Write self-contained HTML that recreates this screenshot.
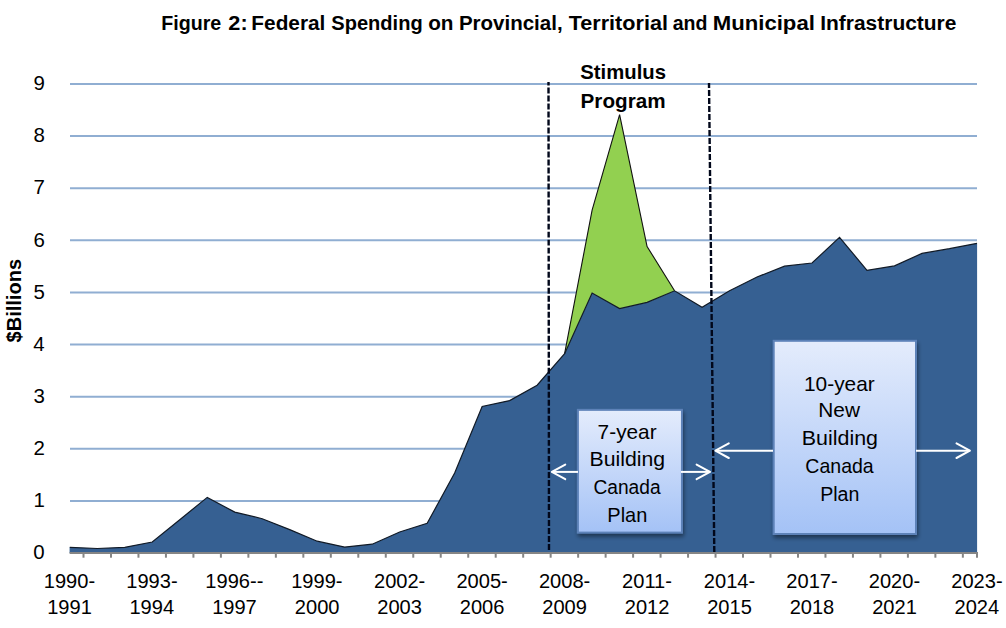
<!DOCTYPE html>
<html><head><meta charset="utf-8"><style>
html,body{margin:0;padding:0;background:#fff;overflow:hidden;width:1006px;height:628px}
svg{display:block}
text{font-family:"Liberation Sans",sans-serif}
</style></head><body>
<svg width="1006" height="628" viewBox="0 0 1006 628">
<defs>
<linearGradient id="bx" x1="0" y1="0" x2="0" y2="1">
<stop offset="0" stop-color="#e4ecfc"/><stop offset="1" stop-color="#a4c2f6"/>
</linearGradient>
<filter id="sh" x="-20%" y="-20%" width="140%" height="140%"><feGaussianBlur in="SourceAlpha" stdDeviation="2"/><feOffset dx="1" dy="3"/><feComponentTransfer><feFuncA type="linear" slope="0.45"/></feComponentTransfer><feMerge><feMergeNode/><feMergeNode in="SourceGraphic"/></feMerge></filter>
</defs>
<rect width="1006" height="628" fill="#fff"/>
<line x1="70" y1="500.89" x2="977" y2="500.89" stroke="#90aed2" stroke-width="2"/>
<line x1="70" y1="448.78" x2="977" y2="448.78" stroke="#90aed2" stroke-width="2"/>
<line x1="70" y1="396.67" x2="977" y2="396.67" stroke="#90aed2" stroke-width="2"/>
<line x1="70" y1="344.56" x2="977" y2="344.56" stroke="#90aed2" stroke-width="2"/>
<line x1="70" y1="292.45" x2="977" y2="292.45" stroke="#90aed2" stroke-width="2"/>
<line x1="70" y1="240.34" x2="977" y2="240.34" stroke="#90aed2" stroke-width="2"/>
<line x1="70" y1="188.23" x2="977" y2="188.23" stroke="#90aed2" stroke-width="2"/>
<line x1="70" y1="136.12" x2="977" y2="136.12" stroke="#90aed2" stroke-width="2"/>
<line x1="70" y1="84.01" x2="977" y2="84.01" stroke="#90aed2" stroke-width="2"/>
<polygon points="69.6,553 69.6,547.3 69.8,547.3 97.29,548.5 124.78,547.3 152.27,542 179.76,519.7 207.25,497.4 234.74,512.1 262.23,518.7 289.72,529.6 317.21,541.2 344.7,547.1 372.19,544.2 399.68,532 427.17,523.3 454.66,473.1 482.15,406.4 509.64,400.6 537.13,385.2 564.62,353.7 592.11,293 619.6,308.5 647.09,302.4 674.58,290.8 702.07,307.2 729.56,290.7 757.05,277 784.54,266.2 812.03,263 839.52,237.4 867.01,270.3 894.5,265.9 921.99,253.4 949.48,248.7 976.97,243.3 977.1,243.3 977.1,553" fill="#366092"/>
<polygon points="564.62,353.7 592.11,210.1 619.6,114.6 647.09,246.5 674.58,290.8 674.58,290.8 647.09,302.4 619.6,308.5 592.11,293 564.62,353.7" fill="#92d050"/>
<polyline points="564.62,353.7 592.11,210.1 619.6,114.6 647.09,246.5 674.58,290.8" fill="none" stroke="#111" stroke-width="1.1"/>
<polyline points="69.8,547.3 97.29,548.5 124.78,547.3 152.27,542 179.76,519.7 207.25,497.4 234.74,512.1 262.23,518.7 289.72,529.6 317.21,541.2 344.7,547.1 372.19,544.2 399.68,532 427.17,523.3 454.66,473.1 482.15,406.4 509.64,400.6 537.13,385.2 564.62,353.7 592.11,293 619.6,308.5 647.09,302.4 674.58,290.8 702.07,307.2 729.56,290.7 757.05,277 784.54,266.2 812.03,263 839.52,237.4 867.01,270.3 894.5,265.9 921.99,253.4 949.48,248.7 976.97,243.3" fill="none" stroke="#111a26" stroke-width="1.2"/>
<line x1="69.6" y1="552.9" x2="977.2" y2="552.9" stroke="#858585" stroke-width="2"/>
<line x1="83.5" y1="552" x2="83.5" y2="557.7" stroke="#858585" stroke-width="2"/>
<line x1="110.98" y1="552" x2="110.98" y2="557.7" stroke="#858585" stroke-width="2"/>
<line x1="138.46" y1="552" x2="138.46" y2="557.7" stroke="#858585" stroke-width="2"/>
<line x1="165.94" y1="552" x2="165.94" y2="557.7" stroke="#858585" stroke-width="2"/>
<line x1="193.42" y1="552" x2="193.42" y2="557.7" stroke="#858585" stroke-width="2"/>
<line x1="220.9" y1="552" x2="220.9" y2="557.7" stroke="#858585" stroke-width="2"/>
<line x1="248.38" y1="552" x2="248.38" y2="557.7" stroke="#858585" stroke-width="2"/>
<line x1="275.86" y1="552" x2="275.86" y2="557.7" stroke="#858585" stroke-width="2"/>
<line x1="303.34" y1="552" x2="303.34" y2="557.7" stroke="#858585" stroke-width="2"/>
<line x1="330.82" y1="552" x2="330.82" y2="557.7" stroke="#858585" stroke-width="2"/>
<line x1="358.3" y1="552" x2="358.3" y2="557.7" stroke="#858585" stroke-width="2"/>
<line x1="385.78" y1="552" x2="385.78" y2="557.7" stroke="#858585" stroke-width="2"/>
<line x1="413.26" y1="552" x2="413.26" y2="557.7" stroke="#858585" stroke-width="2"/>
<line x1="440.74" y1="552" x2="440.74" y2="557.7" stroke="#858585" stroke-width="2"/>
<line x1="468.22" y1="552" x2="468.22" y2="557.7" stroke="#858585" stroke-width="2"/>
<line x1="495.7" y1="552" x2="495.7" y2="557.7" stroke="#858585" stroke-width="2"/>
<line x1="523.18" y1="552" x2="523.18" y2="557.7" stroke="#858585" stroke-width="2"/>
<line x1="550.66" y1="552" x2="550.66" y2="557.7" stroke="#858585" stroke-width="2"/>
<line x1="578.14" y1="552" x2="578.14" y2="557.7" stroke="#858585" stroke-width="2"/>
<line x1="605.62" y1="552" x2="605.62" y2="557.7" stroke="#858585" stroke-width="2"/>
<line x1="633.1" y1="552" x2="633.1" y2="557.7" stroke="#858585" stroke-width="2"/>
<line x1="660.58" y1="552" x2="660.58" y2="557.7" stroke="#858585" stroke-width="2"/>
<line x1="688.06" y1="552" x2="688.06" y2="557.7" stroke="#858585" stroke-width="2"/>
<line x1="715.54" y1="552" x2="715.54" y2="557.7" stroke="#858585" stroke-width="2"/>
<line x1="743.02" y1="552" x2="743.02" y2="557.7" stroke="#858585" stroke-width="2"/>
<line x1="770.5" y1="552" x2="770.5" y2="557.7" stroke="#858585" stroke-width="2"/>
<line x1="797.98" y1="552" x2="797.98" y2="557.7" stroke="#858585" stroke-width="2"/>
<line x1="825.46" y1="552" x2="825.46" y2="557.7" stroke="#858585" stroke-width="2"/>
<line x1="852.94" y1="552" x2="852.94" y2="557.7" stroke="#858585" stroke-width="2"/>
<line x1="880.42" y1="552" x2="880.42" y2="557.7" stroke="#858585" stroke-width="2"/>
<line x1="907.9" y1="552" x2="907.9" y2="557.7" stroke="#858585" stroke-width="2"/>
<line x1="935.38" y1="552" x2="935.38" y2="557.7" stroke="#858585" stroke-width="2"/>
<line x1="962.86" y1="552" x2="962.86" y2="557.7" stroke="#858585" stroke-width="2"/>
<line x1="977" y1="552" x2="977" y2="557.7" stroke="#858585" stroke-width="2"/>
<line x1="548.5" y1="82" x2="549" y2="552" stroke="#01071a" stroke-width="2.4" stroke-dasharray="5.95 2.06" stroke-dashoffset="2.55"/>
<line x1="709" y1="83" x2="714.3" y2="552" stroke="#01071a" stroke-width="2.4" stroke-dasharray="6 2" stroke-dashoffset="1"/>
<g filter="url(#sh)"><rect x="577.9" y="409.85" width="104.05" height="122.75" fill="url(#bx)" stroke="#5d82b8" stroke-width="2"/></g>
<g filter="url(#sh)"><rect x="773.7" y="340.8" width="142.3" height="193.2" fill="url(#bx)" stroke="#5d82b8" stroke-width="2"/></g>
<line x1="578" y1="471.9" x2="552.35" y2="471.9" stroke="#fff" stroke-width="2"/><polyline points="565.25,464.6 551.85,471.9 565.25,479.2" fill="none" stroke="#fff" stroke-width="2" stroke-linecap="round" stroke-linejoin="round"/>
<line x1="681" y1="471.9" x2="709.5" y2="471.9" stroke="#fff" stroke-width="2"/><polyline points="696.6,464.6 710,471.9 696.6,479.2" fill="none" stroke="#fff" stroke-width="2" stroke-linecap="round" stroke-linejoin="round"/>
<line x1="773" y1="450.7" x2="715.9" y2="450.7" stroke="#fff" stroke-width="2"/><polyline points="728.8,443.4 715.4,450.7 728.8,458" fill="none" stroke="#fff" stroke-width="2" stroke-linecap="round" stroke-linejoin="round"/>
<line x1="916" y1="450.7" x2="969.4" y2="450.7" stroke="#fff" stroke-width="2"/><polyline points="956.5,443.4 969.9,450.7 956.5,458" fill="none" stroke="#fff" stroke-width="2" stroke-linecap="round" stroke-linejoin="round"/>
<g font-family="Liberation Sans, sans-serif" fill="#000">
<text transform="translate(162.6,29.9) scale(0.9356,1)" x="-1.47" y="0" font-size="21.01" font-weight="bold">Figure</text>
<text transform="translate(229,29.9) scale(1.0331,1)" x="-0.63" y="0" font-size="21.01" font-weight="bold">2:</text>
<text transform="translate(252.8,29.9) scale(0.9907,1)" x="-1.47" y="0" font-size="21.01" font-weight="bold">Federal</text>
<text transform="translate(331.9,29.9) scale(0.9549,1)" x="-0.63" y="0" font-size="21.01" font-weight="bold">Spending</text>
<text transform="translate(429,29.9) scale(0.9857,1)" x="-0.84" y="0" font-size="21.01" font-weight="bold">on</text>
<text transform="translate(460.3,29.9) scale(0.9769,1)" x="-1.47" y="0" font-size="21.01" font-weight="bold">Provincial,</text>
<text transform="translate(568.9,29.9) scale(1.0287,1)" x="-0.21" y="0" font-size="21.01" font-weight="bold">Territorial</text>
<text transform="translate(673.3,29.9) scale(0.9291,1)" x="-0.63" y="0" font-size="21.01" font-weight="bold">and</text>
<text transform="translate(714.3,29.9) scale(1.0539,1)" x="-1.47" y="0" font-size="21.01" font-weight="bold">Municipal</text>
<text transform="translate(821.7,29.9) scale(0.9971,1)" x="-1.47" y="0" font-size="21.01" font-weight="bold">Infrastructure</text>
<text transform="translate(580.9,78.5) scale(0.9722,1)" x="-0.63" y="0" font-size="20.87" font-weight="bold">Stimulus</text>
<text transform="translate(582,107.6) scale(0.9908,1)" x="-1.46" y="0" font-size="20.87" font-weight="bold">Program</text>
<text transform="translate(21,342.1) rotate(-90) scale(0.9552,1)" x="-0.42" y="0" font-size="21.01" font-weight="bold">$Billions</text>
<text transform="translate(34.18,559.2) scale(1.0300,1)" x="-0.79" y="0" font-size="19.86">0</text>
<text transform="translate(35.2,507.09) scale(1.0300,1)" x="-1.59" y="0" font-size="19.86">1</text>
<text transform="translate(34.59,454.98) scale(1.0300,1)" x="-0.99" y="0" font-size="19.86">2</text>
<text transform="translate(34.39,402.87) scale(1.0300,1)" x="-0.79" y="0" font-size="19.86">3</text>
<text transform="translate(33.57,350.76) scale(1.0300,1)" x="-0.4" y="0" font-size="19.86">4</text>
<text transform="translate(34.39,298.65) scale(1.0300,1)" x="-0.79" y="0" font-size="19.86">5</text>
<text transform="translate(34.59,246.54) scale(1.0300,1)" x="-0.99" y="0" font-size="19.86">6</text>
<text transform="translate(34.59,194.43) scale(1.0300,1)" x="-0.99" y="0" font-size="19.86">7</text>
<text transform="translate(34.39,142.32) scale(1.0300,1)" x="-0.79" y="0" font-size="19.86">8</text>
<text transform="translate(34.59,90.21) scale(1.0300,1)" x="-0.99" y="0" font-size="19.86">9</text>
<text transform="translate(45.39,587.6) scale(1.0200,1)" x="-1.58" y="0" font-size="19.70">1990-</text>
<text transform="translate(48.8,614) scale(1.0200,1)" x="-1.58" y="0" font-size="19.70">1991</text>
<text transform="translate(127.86,587.6) scale(1.0200,1)" x="-1.58" y="0" font-size="19.70">1993-</text>
<text transform="translate(131.07,614) scale(1.0200,1)" x="-1.58" y="0" font-size="19.70">1994</text>
<text transform="translate(206.91,587.6) scale(1.0200,1)" x="-1.58" y="0" font-size="19.70">1996--</text>
<text transform="translate(213.74,614) scale(1.0200,1)" x="-1.58" y="0" font-size="19.70">1997</text>
<text transform="translate(292.8,587.6) scale(1.0200,1)" x="-1.58" y="0" font-size="19.70">1999-</text>
<text transform="translate(295.81,614) scale(1.0200,1)" x="-0.98" y="0" font-size="19.70">2000</text>
<text transform="translate(374.96,587.6) scale(1.0200,1)" x="-0.98" y="0" font-size="19.70">2002-</text>
<text transform="translate(378.28,614) scale(1.0200,1)" x="-0.98" y="0" font-size="19.70">2003</text>
<text transform="translate(457.43,587.6) scale(1.0200,1)" x="-0.98" y="0" font-size="19.70">2005-</text>
<text transform="translate(460.75,614) scale(1.0200,1)" x="-0.98" y="0" font-size="19.70">2006</text>
<text transform="translate(539.9,587.6) scale(1.0200,1)" x="-0.98" y="0" font-size="19.70">2008-</text>
<text transform="translate(543.22,614) scale(1.0200,1)" x="-0.98" y="0" font-size="19.70">2009</text>
<text transform="translate(623.08,587.6) scale(1.0200,1)" x="-0.98" y="0" font-size="19.70">2011-</text>
<text transform="translate(625.79,614) scale(1.0200,1)" x="-0.98" y="0" font-size="19.70">2012</text>
<text transform="translate(704.84,587.6) scale(1.0200,1)" x="-0.98" y="0" font-size="19.70">2014-</text>
<text transform="translate(708.16,614) scale(1.0200,1)" x="-0.98" y="0" font-size="19.70">2015</text>
<text transform="translate(787.31,587.6) scale(1.0200,1)" x="-0.98" y="0" font-size="19.70">2017-</text>
<text transform="translate(790.63,614) scale(1.0200,1)" x="-0.98" y="0" font-size="19.70">2018</text>
<text transform="translate(869.78,587.6) scale(1.0200,1)" x="-0.98" y="0" font-size="19.70">2020-</text>
<text transform="translate(873.2,614) scale(1.0200,1)" x="-0.98" y="0" font-size="19.70">2021</text>
<text transform="translate(952.25,587.6) scale(1.0200,1)" x="-0.98" y="0" font-size="19.70">2023-</text>
<text transform="translate(955.47,614) scale(1.0200,1)" x="-0.98" y="0" font-size="19.70">2024</text>
<text transform="translate(598.65,439) scale(0.9912,1)" x="-1.05" y="0" font-size="21.01">7-year</text>
<text transform="translate(591.25,465.8) scale(1.0117,1)" x="-1.68" y="0" font-size="21.01">Building</text>
<text transform="translate(594.4,493.5) scale(0.9131,1)" x="-1.05" y="0" font-size="21.01">Canada</text>
<text transform="translate(608.9,522.1) scale(0.9517,1)" x="-1.68" y="0" font-size="21.01">Plan</text>
<text transform="translate(805.7,390.6) scale(0.9922,1)" x="-1.68" y="0" font-size="21.01">10-year</text>
<text transform="translate(820,417.3) scale(0.9914,1)" x="-1.68" y="0" font-size="21.01">New</text>
<text transform="translate(803.45,445.3) scale(1.0201,1)" x="-1.68" y="0" font-size="21.01">Building</text>
<text transform="translate(806.3,473) scale(0.9297,1)" x="-1.05" y="0" font-size="21.01">Canada</text>
<text transform="translate(821.75,500.8) scale(0.9338,1)" x="-1.68" y="0" font-size="21.01">Plan</text>
</g>
</svg>
</body></html>
